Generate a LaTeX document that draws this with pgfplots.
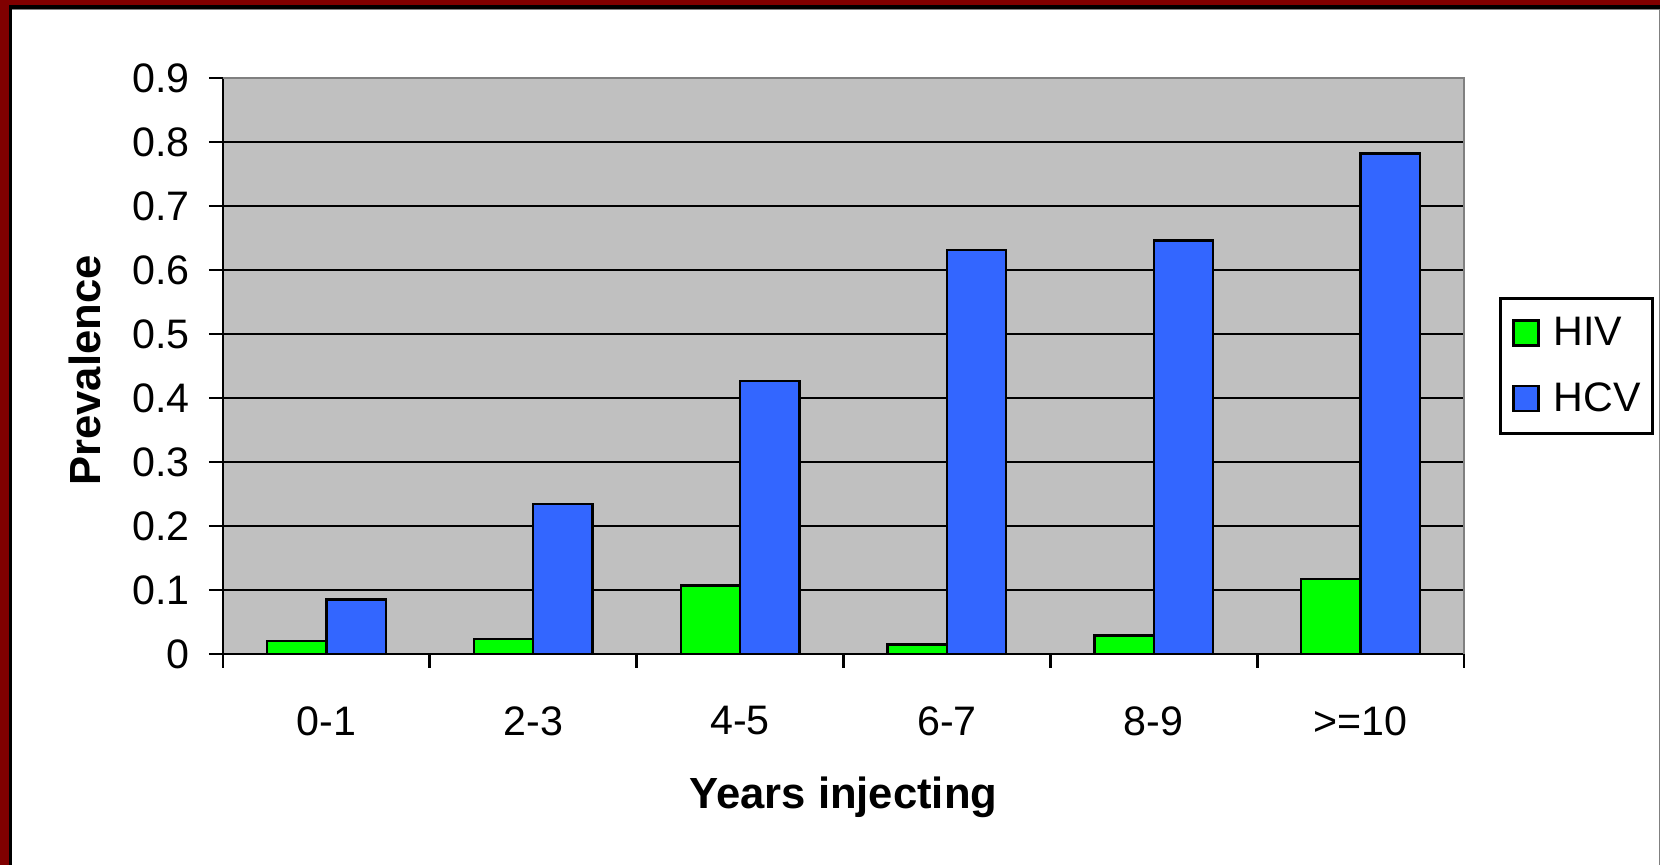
\documentclass[border=0pt]{standalone}
\usepackage{fontspec}
\setmainfont{Liberation Sans}
\usepackage{pgfplots}
\pgfplotsset{compat=1.18}
\definecolor{borderred}{HTML}{800000}
\definecolor{plotgray}{HTML}{C0C0C0}
\definecolor{hivgreen}{HTML}{00FF00}
\definecolor{hcvblue}{HTML}{3366FF}
\definecolor{edgegray}{HTML}{808080}

\begin{document}
\begin{tikzpicture}
\useasboundingbox (0,0) rectangle (830pt,-432.5pt);
\fill[borderred] (0,0) rectangle (830pt,-432.5pt);
\fill[black] (4.5pt,-2.5pt) rectangle (830pt,-432.5pt);
\fill[white] (6pt,-4.5pt) rectangle (830pt,-432.5pt);
\draw[edgegray, line width=0.5pt] (6pt,-4.75pt) -- (829.75pt,-4.75pt) -- (829.75pt,-432.5pt);

\begin{axis}[
  at={(111.5pt,-39pt)}, anchor=north west,
  scale only axis, width=620.5pt, height=288pt,
  xmin=-0.5, xmax=5.5, ymin=0, ymax=0.9,
  ybar=0pt, bar width=0.287,
  axis x line*=bottom, axis y line*=left,
  axis line style={line width=1.4pt, black, -},
  axis background/.style={fill=plotgray},
  ytick={0,0.1,0.2,0.3,0.4,0.5,0.6,0.7,0.8,0.9},
  xtick={0,1,2,3,4,5},
  xticklabels={0-1,2-3,4-5,6-7,8-9,{>=10}},
  minor xtick={-0.5,0.5,1.5,2.5,3.5,4.5,5.5},
  major x tick style={draw=none},
  tick align=outside,
  major tick length=7pt, minor tick length=7pt,
  tick style={black, line width=1.4pt},
  ymajorgrids, major grid style={black, line width=1.3pt},
  /pgf/number format/assume math mode=true,
  ticklabel style={font=\fontsize{20.6}{24}\selectfont, inner sep=0pt},
  yticklabel style={anchor=east, xshift=-9.5pt},
  xticklabel style={anchor=north, yshift=-19pt},
  xlabel={Years injecting}, ylabel={Prevalence},
  label style={font=\fontsize{21.8}{26}\selectfont\bfseries, inner sep=0pt},
  xlabel style={at={(axis description cs:0.5,-0.2674)}, anchor=base},
  ylabel style={at={(axis description cs:-0.0985,0.492)}, anchor=base},
  legend style={at={(1.0282,0.5)}, anchor=west, draw=black, line width=1.3pt,
    fill=white, font=\fontsize{20.6}{24}\selectfont, row sep=17pt,
    nodes={inner sep=0pt}, column sep=0pt,
    /tikz/every odd column/.append style={column sep=7pt},
    inner xsep=6pt, inner ysep=9.5pt},
  legend cell align=left,
  legend image code/.code={\draw[#1, line width=1.2pt] (0pt,-6.25pt) rectangle (12.5pt,6.25pt);},
  every axis plot/.append style={draw=black, line width=1.2pt},
  after end axis/.code={\draw[edgegray, line width=1.4pt] (rel axis cs:0,1) -- (rel axis cs:1,1) -- (rel axis cs:1,0);},
]
\addplot[fill=hivgreen] coordinates {(0,0.020) (1,0.023) (2,0.107) (3,0.015) (4,0.029) (5,0.117)};
\addplot[fill=hcvblue] coordinates {(0,0.085) (1,0.234) (2,0.427) (3,0.631) (4,0.646) (5,0.782)};
\legend{HIV,HCV}
\end{axis}
\end{tikzpicture}
\end{document}
